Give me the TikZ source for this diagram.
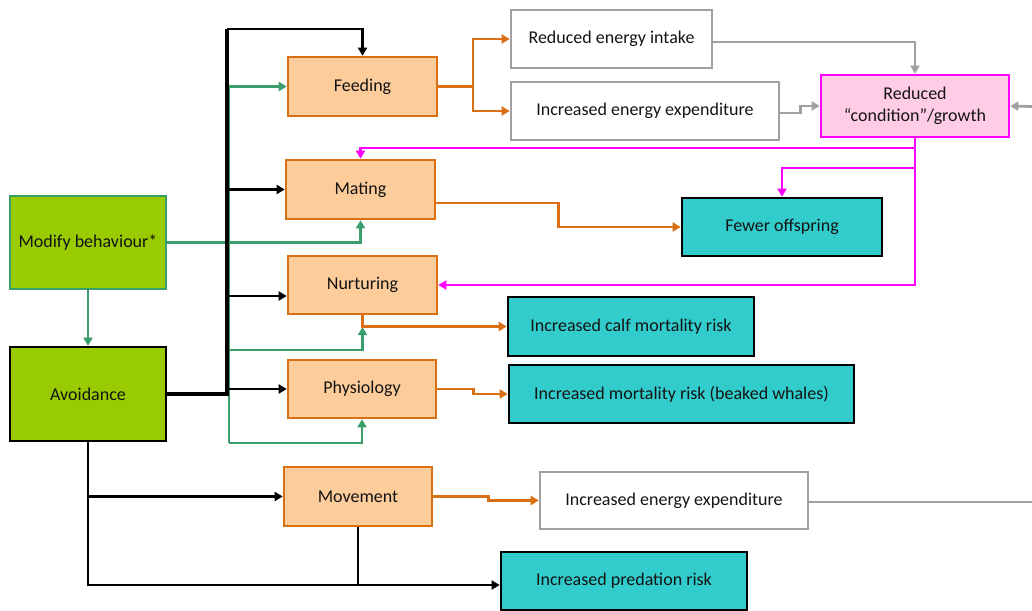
\documentclass[tikz,border=0pt]{standalone}
\usepackage{fontspec}
\setmainfont{Carlito}
\usetikzlibrary{arrows.meta}

\definecolor{orgline}{RGB}{217,112,20}
\definecolor{orgfill}{RGB}{252,204,154}
\definecolor{limefill}{RGB}{153,204,0}
\definecolor{grnline}{RGB}{58,158,107}
\definecolor{tealfill}{RGB}{51,204,204}
\definecolor{grayline}{RGB}{160,160,160}
\definecolor{pinkfill}{RGB}{255,204,229}
\definecolor{magline}{RGB}{255,0,255}
\definecolor{txt}{RGB}{20,20,20}

\tikzset{
  box/.style={line width=2.6pt, inner sep=0pt, align=center, text=txt},
  obox/.style={box, draw=orgline, fill=orgfill},
  gbox/.style={box, fill=limefill},
  wbox/.style={box, draw=grayline, fill=white},
  tbox/.style={box, draw=black, fill=tealfill},
  pbox/.style={box, draw=magline, fill=pinkfill},
  arr/.style={-{Triangle[length=8pt,width=9pt]}},
  blkln/.style={draw=black, line width=2.8pt},
  trunkln/.style={draw=black, line width=3.6pt},
  grnln/.style={draw=grnline, line width=2.6pt},
  orgln/.style={draw=orgline, line width=2.5pt},
  grayln/.style={draw=grayline, line width=2.8pt},
  magln/.style={draw=magline, line width=2.8pt},
}

\begin{document}
\begin{tikzpicture}[x=1pt, y=-1pt, font=\fontsize{18}{22}\selectfont]
\useasboundingbox[fill=white] (0,0) rectangle (1032,610);

% behaviour boxes
\node[obox, minimum width=149pt, minimum height=59pt] (feed) at (362.5,86.5) {Feeding};
\node[obox, minimum width=149pt, minimum height=59pt] (mate) at (360.5,189.5) {Mating};
\node[obox, minimum width=149pt, minimum height=58pt] (nurt) at (362.5,285) {Nurturing};
\node[obox, minimum width=148pt, minimum height=58pt] (phys) at (362,389) {Physiology};
\node[obox, minimum width=148pt, minimum height=59pt] (move) at (358,496.5) {Movement};

% responses
\node[gbox, draw=grnline, minimum width=156pt, minimum height=93pt] (modb) at (88,242.5) {Modify behaviour*};
\node[gbox, draw=black, minimum width=156pt, minimum height=94pt] (avoid) at (88,394) {Avoidance};

% energetic consequences
\node[wbox, minimum width=201pt, minimum height=58pt] (intake) at (611.5,39) {Reduced energy intake};
\node[wbox, minimum width=268pt, minimum height=58pt] (expend) at (645,111) {Increased energy expenditure};
\node[pbox, minimum width=188pt, minimum height=62pt] (cond) at (915,106) {Reduced\\“condition”/growth};
\node[wbox, minimum width=268pt, minimum height=57pt] (expend2) at (674,500.5) {Increased energy expenditure};

% vital-rate outcomes
\node[tbox, minimum width=200pt, minimum height=58pt] (fewer) at (782,227) {Fewer offspring};
\node[tbox, minimum width=246pt, minimum height=59pt] (calf) at (631,326.5) {Increased calf mortality risk};
\node[tbox, minimum width=345pt, minimum height=58pt] (mort) at (681.5,394) {Increased mortality risk (beaked whales)};
\node[tbox, minimum width=246pt, minimum height=58pt] (pred) at (624,581) {Increased predation risk};

% junction points
\coordinate (gx) at (229,443);
\coordinate (gn) at (229,350);
\coordinate (nj) at (362.5,327);
\coordinate (tb) at (227,394);
\coordinate (tt) at (227,29);
\coordinate (fork) at (473,86.5);
\coordinate (pj) at (358,585);
\coordinate (m1) at (915,148);
\coordinate (m2) at (915,168);
\coordinate (rin) at (1032,106.5);
\coordinate (rout) at (1032,502);

% green links from "Modify behaviour"
\draw[grnln, arr] (gx) -- (gx |- feed.west) -- (feed.west);
\draw[grnln, arr] (modb.east) -| (mate.south);
\draw[grnln, arr] (modb.south) -- (avoid.north);
\draw[grnln, arr] (gn) -| (nj);
\draw[grnln, arr] (gx) -| (phys.south);

% orange links from behaviours
\draw[orgln, arr] (feed.east) -- (fork) |- (intake.west);
\draw[orgln, arr] (fork) |- (expend.west);
\draw[orgln, arr] ([yshift=-13.5pt]mate.east) -- ++(122,0) |- (fewer.west);
\draw[orgln, arr] (nurt.south) |- (calf.west);
\draw[orgln, arr] (phys.east) -- ++(36,0) |- (mort.west);
\draw[orgln, arr] (move.east) -- ++(55,0) |- (expend2.west);

% black links from "Avoidance"
\draw[trunkln] (avoid.east) -- (tb) -- (tt);
\draw[blkln, arr] (tt) -| (feed.north);
\draw[blkln, arr] (tt |- mate.west) -- (mate.west);
\draw[blkln, arr] (tt |- 0,296) -- ([yshift=-11pt]nurt.west);
\draw[blkln, arr] (tt |- phys.west) -- (phys.west);
\draw[blkln, arr] (avoid.south) |- (move.west);
\draw[blkln] (avoid.south) |- (pj);
\draw[blkln, arr] (move.south) -- (pj) -- (pred.west |- pj);

% grey energetic links
\draw[grayln, arr] ([yshift=-3pt]intake.east) -| (cond.north);
\draw[grayln, arr] ([yshift=-2pt]expend.east) -- ++(20,0) |- (cond.west);
\draw[grayln, arr] (rin) -- (cond.east);
\draw[grayln] ([yshift=-1.5pt]expend2.east) -- (rout);

% magenta links from condition
\draw[magln, arr] (cond.south) |- (nurt.east);
\draw[magln, arr] (m1) -| (mate.north);
\draw[magln, arr] (m2) -| (fewer.north);
\end{tikzpicture}
\end{document}
